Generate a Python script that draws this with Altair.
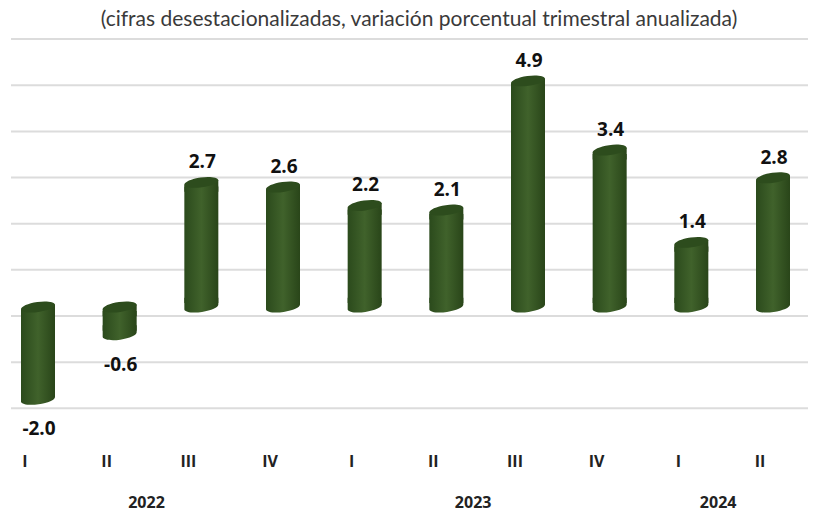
import altair as alt
import pandas as pd

quarters = ["I", "II", "III", "IV", "I", "II", "III", "IV", "I", "II"]
years = ["2022", "2022", "2022", "2022", "2023", "2023", "2023", "2023", "2024", "2024"]
values = [-2.0, -0.6, 2.7, 2.6, 2.2, 2.1, 4.9, 3.4, 1.4, 2.8]
grid_values = [-2, -1, 0, 1, 2, 3, 4, 5, 6]
title_text = "(cifras desestacionalizadas, variación porcentual trimestral anualizada)"

df = pd.DataFrame({"i": range(len(values)), "q": quarters, "year": years, "v": values})
df["top"] = df["v"].clip(lower=0)
df["bottom"] = df["v"].clip(upper=0)
df["label"] = df["v"].map(lambda x: f"{x:.1f}")
pos = df[df["v"] >= 0]
neg = df[df["v"] < 0]
year_df = df.groupby("year", as_index=False)["i"].mean()

X = alt.X("i:Q", axis=None, scale=alt.Scale(domain=[0, 9], range=[30, 765], padding=0, nice=False))
Y_SCALE = alt.Scale(domain=[-4.247, 6.587], nice=False, zero=False)


def y(field):
    return alt.Y(f"{field}:Q", axis=None, scale=Y_SCALE)


body = alt.Gradient(
    gradient="linear", x1=0, x2=1, y1=0, y2=0,
    stops=[
        alt.GradientStop(offset=0, color="#2b4a1c"),
        alt.GradientStop(offset=0.5, color="#40622b"),
        alt.GradientStop(offset=1, color="#294519"),
    ],
)
rx = "1.01,0.3 -8"
neck_top = "M-1,0.14 L1,-0.14 L1,0.55 L-1,0.55 Z"
end_bottom = f"M-1,0.14 A{rx} 0 0 1,-0.14 L1,-0.55 L-1,-0.55 Z"
cap_full = f"M-1,0.14 A{rx} 0 1 1,-0.14 A{rx} 0 1 -1,0.14 Z"
OFFSET = -9

grid = alt.Chart(pd.DataFrame({"g": grid_values})).mark_rule(
    color="#dcdcdc", strokeWidth=2
).encode(y=y("g"), x=alt.value(3), x2=alt.value(800))

bars = alt.Chart(df).mark_bar(size=34, fill=body, yOffset=OFFSET + 4, y2Offset=OFFSET - 4).encode(
    x=X, y=y("top"), y2="bottom:Q"
)
point_args = dict(size=1156, filled=True, opacity=1, strokeWidth=0, yOffset=OFFSET)
bottoms = alt.Chart(df).mark_point(fill=body, shape=end_bottom, **point_args).encode(x=X, y=y("bottom"))
necks = alt.Chart(df).mark_point(fill=body, shape=neck_top, **point_args).encode(x=X, y=y("top"))
tops = alt.Chart(df).mark_point(fill="#2d4c1d", shape=cap_full, **point_args).encode(x=X, y=y("top"))

label_font = dict(font="Open Sans", fontWeight="bold", fontSize=19, color="#111111")
pos_labels = alt.Chart(pos).mark_text(dy=-29, dx=1, **label_font).encode(x=X, y=y("v"), text="label:N")
neg_labels = alt.Chart(neg).mark_text(dy=21, dx=1, **label_font).encode(x=X, y=y("v"), text="label:N")

q_labels = alt.Chart(df).mark_text(
    xOffset=-13, font="Open Sans", fontWeight="bold", fontSize=16, color="#222222"
).encode(x=X, y=alt.value(450), text="q:N")
y_labels = alt.Chart(year_df).mark_text(
    xOffset=-14, font="Open Sans", fontWeight="bold", fontSize=16, color="#222222"
).encode(x=X, y=alt.value(491), text="year:N")

title = alt.Chart(pd.DataFrame({"t": [title_text]})).mark_text(
    font="Lato", fontSize=21, color="#3a3a3a"
).encode(x=alt.value(411), y=alt.value(8), text="t:N")

chart = alt.layer(
    grid, bars, bottoms, necks, tops, pos_labels, neg_labels, q_labels, y_labels, title
).properties(
    width=812, height=500,
    padding={"top": 1, "left": 0, "right": 0, "bottom": 0},
).configure_view(stroke=None)

chart.save("out.html", embed_options={"renderer": "svg", "actions": False})
